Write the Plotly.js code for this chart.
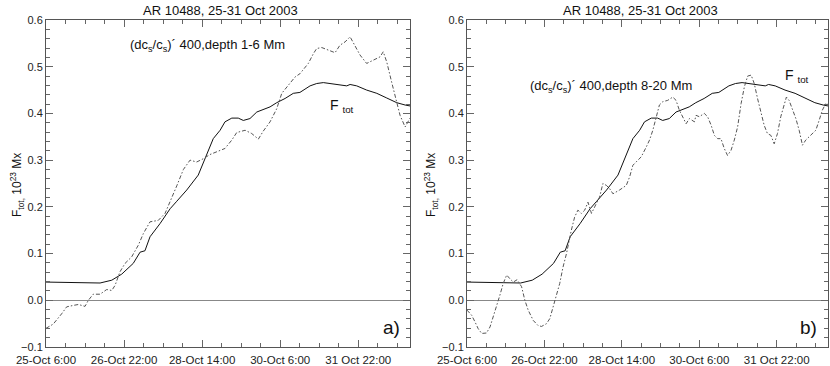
<!DOCTYPE html>
<html>
<head>
<meta charset="utf-8">
<script src="https://cdn.plot.ly/plotly-3.0.1.min.js"></script>
<style>html,body{margin:0;padding:0;background:#fff;}#chart{width:830px;height:366px;}</style>
</head>
<body>
<div id="chart"></div>
<script>
// Hours after 25-Oct 2003 06:00
const tickHours = [0, 40, 80, 120, 160];
const tickText = ['25-Oct 6:00', '26-Oct 22:00', '28-Oct 14:00', '30-Oct 6:00', '31 Oct 22:00'];

// Total magnetic flux F_tot (10^23 Mx)
const ftotHours = [0, 12.3, 27.7, 33.7, 38.8, 44.7, 48.2, 50.7, 53.3, 58.4, 63.6, 67.0, 72.1, 78.0, 82.3, 85.7, 89.2, 91.7, 95.2, 98.5, 101.1, 104.5, 108.0, 111.3, 114.8, 118.2, 122.5, 126.7, 130.1, 135.3, 138.7, 142.1, 145.5, 150.6, 154.1, 155.8, 159.2, 164.3, 169.5, 174.6, 179.7, 184.0, 186.5];
const ftot = [0.039, 0.038, 0.037, 0.043, 0.056, 0.079, 0.103, 0.106, 0.136, 0.164, 0.196, 0.212, 0.236, 0.268, 0.31, 0.346, 0.364, 0.382, 0.39, 0.39, 0.385, 0.389, 0.403, 0.409, 0.414, 0.423, 0.432, 0.443, 0.445, 0.459, 0.464, 0.466, 0.464, 0.46, 0.459, 0.462, 0.459, 0.45, 0.443, 0.433, 0.423, 0.418, 0.416];

// (dcs/cs)' 400, depth 1-6 Mm  (panel a)
const depthAHours = [0, 3.7, 8.0, 10.6, 14.0, 16.6, 20.0, 21.7, 24.2, 27.7, 31.1, 33.7, 35.4, 37.9, 40.5, 43.9, 47.3, 49.9, 53.3, 57.5, 61.0, 63.6, 67.0, 70.4, 73.8, 77.2, 80.6, 84.0, 87.5, 91.7, 95.2, 97.7, 102.0, 105.4, 108.8, 111.3, 114.8, 118.2, 120.8, 124.2, 127.6, 130.1, 131.8, 134.4, 137.0, 138.7, 141.3, 144.7, 148.1, 150.6, 153.2, 155.8, 158.3, 160.9, 164.3, 167.7, 171.1, 172.8, 174.6, 177.1, 179.7, 181.4, 184.0, 185.6, 186.5];
const depthA = [-0.06, -0.051, -0.029, -0.014, -0.011, -0.009, -0.013, 0.0, 0.013, 0.013, 0.023, 0.021, 0.032, 0.061, 0.079, 0.093, 0.118, 0.143, 0.168, 0.171, 0.186, 0.21, 0.245, 0.28, 0.30, 0.296, 0.303, 0.312, 0.318, 0.325, 0.343, 0.359, 0.364, 0.357, 0.345, 0.362, 0.382, 0.41, 0.443, 0.46, 0.478, 0.485, 0.493, 0.507, 0.528, 0.539, 0.541, 0.535, 0.53, 0.546, 0.553, 0.564, 0.546, 0.525, 0.507, 0.514, 0.521, 0.532, 0.51, 0.467, 0.425, 0.396, 0.371, 0.382, 0.39];

// (dcs/cs)' 400, depth 8-20 Mm  (panel b)
const depthBHours = [0, 2.4, 4.1, 5.8, 7.6, 10.1, 11.9, 13.5, 15.6, 17.0, 18.7, 20.5, 22.2, 23.9, 25.9, 28.2, 29.9, 31.6, 34.2, 36.7, 38.5, 41.1, 42.8, 44.5, 46.2, 47.9, 49.6, 51.4, 53.9, 55.6, 57.3, 59.1, 60.8, 62.5, 64.3, 66.0, 68.5, 70.2, 72.0, 73.7, 75.4, 78.8, 82.3, 84.0, 85.7, 88.3, 90.0, 92.6, 94.3, 96.0, 97.7, 99.4, 101.1, 103.7, 106.3, 108.0, 109.7, 111.4, 113.2, 114.9, 117.5, 118.3, 120.0, 122.6, 124.3, 126.1, 127.8, 129.5, 131.2, 132.9, 134.6, 136.4, 138.1, 139.8, 141.6, 143.3, 145.0, 146.8, 148.4, 150.1, 151.8, 153.5, 155.2, 157.0, 158.7, 160.4, 162.1, 163.8, 165.0, 166.4, 168.1, 169.9, 171.6, 173.3, 175.0, 177.6, 180.2, 181.9, 183.6, 185.3, 186.5];
const depthB = [-0.021, -0.032, -0.046, -0.061, -0.071, -0.07, -0.057, -0.036, -0.011, 0.011, 0.036, 0.054, 0.046, 0.039, 0.044, 0.029, 0.0, -0.021, -0.043, -0.054, -0.056, -0.05, -0.039, -0.014, 0.007, 0.036, 0.071, 0.10, 0.15, 0.178, 0.193, 0.186, 0.193, 0.21, 0.186, 0.2, 0.221, 0.25, 0.246, 0.239, 0.228, 0.236, 0.246, 0.264, 0.289, 0.30, 0.307, 0.328, 0.343, 0.364, 0.389, 0.418, 0.425, 0.428, 0.435, 0.428, 0.407, 0.393, 0.378, 0.389, 0.382, 0.396, 0.393, 0.40, 0.393, 0.375, 0.353, 0.346, 0.346, 0.325, 0.31, 0.321, 0.343, 0.371, 0.421, 0.457, 0.48, 0.482, 0.464, 0.432, 0.403, 0.375, 0.357, 0.353, 0.335, 0.357, 0.393, 0.421, 0.435, 0.428, 0.41, 0.389, 0.364, 0.332, 0.343, 0.353, 0.364, 0.385, 0.407, 0.421, 0.42];

const W = 830, H = 366;
const fx = p => p / W;
const fy = p => 1 - p / H;
const FONT = 'Liberation Sans, Arial, sans-serif';

const solidLine = {color: '#111', width: 1};
const dashLine = {color: '#555', width: 1, dash: '4px,2px,1.5px,2px'};

const traces = [
  {x: ftotHours, y: ftot, xaxis: 'x', yaxis: 'y', mode: 'lines', line: solidLine, hoverinfo: 'skip'},
  {x: depthAHours, y: depthA, xaxis: 'x', yaxis: 'y', mode: 'lines', line: dashLine, hoverinfo: 'skip'},
  {x: ftotHours, y: ftot, xaxis: 'x2', yaxis: 'y2', mode: 'lines', line: solidLine, hoverinfo: 'skip'},
  {x: depthBHours, y: depthB, xaxis: 'x2', yaxis: 'y2', mode: 'lines', line: dashLine, hoverinfo: 'skip'}
];

function xAx(d0, d1, anchor) {
  return {
    domain: [fx(d0), fx(d1)], anchor: anchor, range: [0, 186.5],
    tickmode: 'array', tickvals: tickHours, ticktext: tickText,
    ticks: 'inside', ticklen: 7, tickwidth: 1, tickcolor: '#666',
    minor: {tickmode: 'linear', tick0: 0, dtick: 10, ticks: 'inside', ticklen: 4, tickcolor: '#666', showgrid: false},
    showline: true, linecolor: '#555', linewidth: 1, mirror: 'allticks',
    showgrid: false, zeroline: false, ticklabelstandoff: 2,
    tickfont: {family: FONT, size: 11.5, color: '#222'}, automargin: false
  };
}
function yAx(anchor) {
  return {
    domain: [fy(347), fy(20)], anchor: anchor, range: [-0.1, 0.6],
    tickmode: 'linear', tick0: 0, dtick: 0.1, tickformat: '.1f',
    ticks: 'inside', ticklen: 7, tickwidth: 1, tickcolor: '#666',
    minor: {tickmode: 'linear', tick0: 0, dtick: 0.02, ticks: 'inside', ticklen: 4, tickcolor: '#666', showgrid: false},
    showline: true, linecolor: '#555', linewidth: 1, mirror: 'allticks',
    showgrid: false, zeroline: true, zerolinecolor: '#888', zerolinewidth: 1,
    tickfont: {family: FONT, size: 11, color: '#222'}, automargin: false
  };
}

function ann(text, x, y, size, opts) {
  return Object.assign({text: text, xref: 'paper', yref: 'paper', x: fx(x), y: fy(y), showarrow: false,
    xanchor: 'center', yanchor: 'middle', font: {family: FONT, size: size, color: '#111'}}, opts || {});
}

const yTitle = 'F<sub>tot,</sub> 10<sup>23</sup> Mx';

const layout = {
  width: W, height: H,
  margin: {l: 0, r: 0, t: 0, b: 0},
  paper_bgcolor: '#fff', plot_bgcolor: '#fff',
  showlegend: false,
  xaxis: xAx(46, 410, 'y'),
  yaxis: yAx('x'),
  xaxis2: xAx(467, 828, 'y2'),
  yaxis2: yAx('x2'),
  annotations: [
    ann('AR 10488, 25-31 Oct 2003', 220, 10, 13),
    ann('AR 10488, 25-31 Oct 2003', 640, 10, 13),
    ann(yTitle, 17, 185, 12, {textangle: -90}),
    ann(yTitle, 431, 185, 12, {textangle: -90}),
    ann('(dc<sub>s</sub>/c<sub>s</sub>)´ 400,depth 1-6 Mm', 207, 45, 13),
    ann('(dc<sub>s</sub>/c<sub>s</sub>)´ 400,depth 8-20 Mm', 611, 87, 13),
    ann('F <sub>tot</sub>', 342, 106, 14),
    ann('F <sub>tot</sub>', 797, 76, 14),
    ann('a)', 391, 327, 19),
    ann('b)', 808, 327, 19)
  ]
};

Plotly.newPlot('chart', traces, layout, {staticPlot: true, displayModeBar: false});
</script>
</body>
</html>
